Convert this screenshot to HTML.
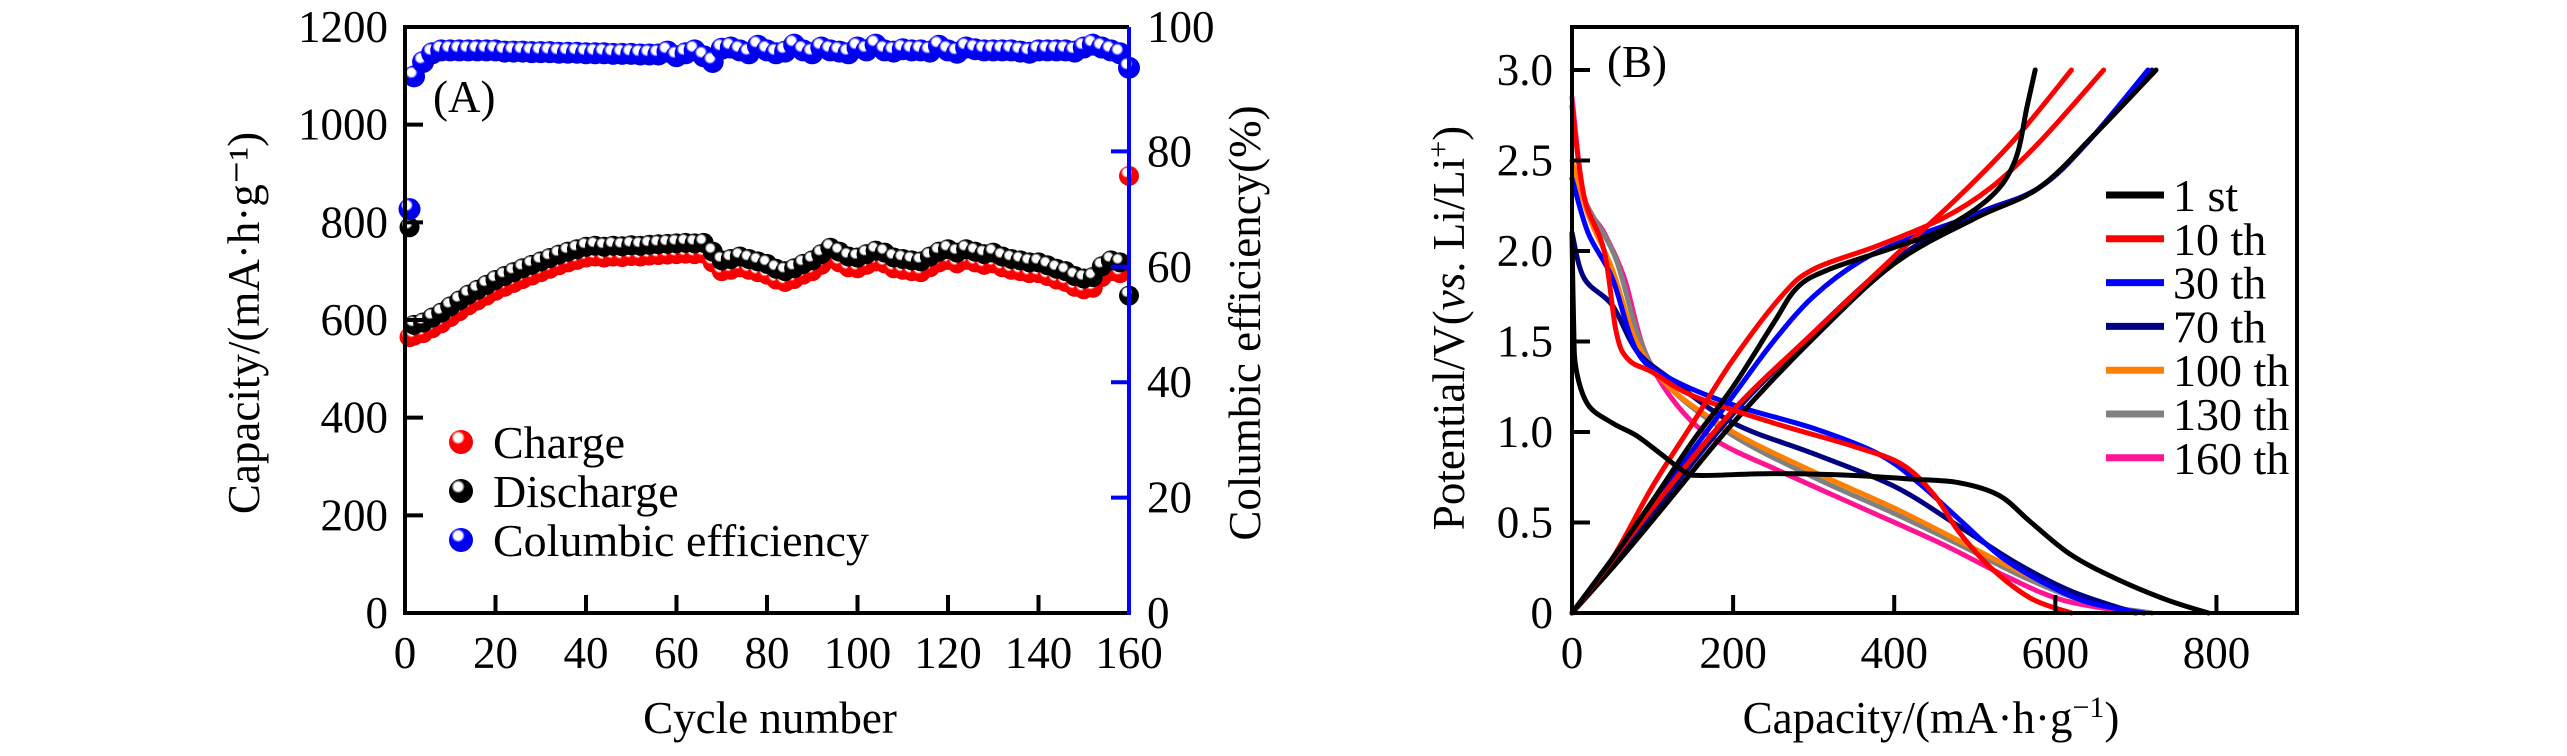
<!DOCTYPE html>
<html><head><meta charset="utf-8"><style>
html,body{margin:0;padding:0;background:#fff}
svg{display:block}
svg text{font-family:"Liberation Serif","Times New Roman",serif;fill:#000}
</style></head><body>
<svg id="chart" width="2567" height="756" viewBox="0 0 2567 756" xmlns="http://www.w3.org/2000/svg" font-family="Liberation Serif, serif">
<defs>
<radialGradient id="gr" cx="0.38" cy="0.32" r="0.7"><stop offset="0" stop-color="#fff"/><stop offset="0.25" stop-color="#fff"/><stop offset="0.4" stop-color="#f00"/><stop offset="1" stop-color="#e00"/></radialGradient>
<radialGradient id="gk" cx="0.38" cy="0.32" r="0.7"><stop offset="0" stop-color="#fff"/><stop offset="0.25" stop-color="#fff"/><stop offset="0.4" stop-color="#000"/><stop offset="1" stop-color="#000"/></radialGradient>
<radialGradient id="gb" cx="0.38" cy="0.32" r="0.7"><stop offset="0" stop-color="#fff"/><stop offset="0.25" stop-color="#fff"/><stop offset="0.4" stop-color="#00f"/><stop offset="1" stop-color="#00d"/></radialGradient>
</defs>
<g id="pa"></g>
<g id="pb"></g>
</svg>
<script>
// ---------- Panel A data ----------
const cycles = [1,2,4,6,8,10,12,14,16,18,20,22,24,26,28,30,32,34,36,38,40,42,44,46,48,50,52,54,56,58,60,62,64,66,68,70,72,74,76,78,80,82,84,86,88,90,92,94,96,98,100,102,104,106,108,110,112,114,116,118,120,122,124,126,128,130,132,134,136,138,140,142,144,146,148,150,152,154,156,158,160];
const dischargeCap = [790,590,595,605,615,628,640,652,662,672,682,690,698,706,713,720,727,734,740,745,750,752,750,752,751,753,752,754,755,756,757,758,757,758,740,722,725,730,725,720,715,705,700,706,715,722,735,748,740,730,728,735,742,738,728,725,722,720,730,740,745,738,745,740,735,738,730,725,722,718,718,712,705,700,690,685,688,710,722,718,650];
const chargeCap = [565,568,573,583,593,606,618,630,640,650,660,668,676,684,691,698,705,712,718,723,728,730,728,730,729,731,730,732,733,734,735,736,735,736,718,700,703,708,703,698,693,683,678,684,693,700,713,726,718,708,706,713,720,716,706,703,700,698,708,718,723,716,723,718,713,716,708,703,700,696,696,690,683,678,668,663,666,688,700,696,895];
const ceVals = [70,93,95.5,97,97.5,97.5,97.5,97.5,97.5,97.5,97.5,97.3,97.3,97.3,97.2,97.2,97.2,97.1,97.1,97.1,97,97,97,96.9,96.9,96.9,96.8,96.8,96.8,97.3,96.5,97,97.5,96.5,95.5,97.8,98,97.5,97,98.3,97.5,97,97.3,98.5,97.5,97,98,97.5,97.3,97,98,97.5,98.5,97.5,97.3,97.7,97.5,97.5,97.3,98.3,97.5,97.1,98,97.7,97.5,97.5,97.5,97.5,97.3,97.1,97.5,97.5,97.5,97.5,97.3,98,98.5,98,97.5,97,94.5];
const xTicksA = [0,20,40,60,80,100,120,140,160];
const yTicksA = [0,200,400,600,800,1000,1200];
const yTicksR = [0,20,40,60,80,100];

// ---------- Panel B data (capacity mAh/g, potential V) ----------
const bCap1st_d = [0,2,5,20,50,80,110,140,160,250,350,420,480,530,570,620,680,740,790];
const bV1st_d   = [2.1,1.6,1.35,1.15,1.05,0.98,0.88,0.78,0.76,0.77,0.76,0.74,0.72,0.65,0.5,0.32,0.18,0.07,0];
const bCap1st_c = [0,50,100,150,200,250,280,320,400,460,520,550,565,575];
const bV1st_c   = [0,0.3,0.62,0.95,1.25,1.6,1.8,1.9,2.02,2.12,2.3,2.5,2.8,3.0];
const bCapK2_c = [0,60,120,200,300,400,500,580,650,725];
const bVK2_c   = [0,0.3,0.62,1.05,1.52,1.93,2.18,2.35,2.65,3.0];
const bCap10_d = [0,15,40,55,70,100,150,250,350,410,450,480,520,570,620];
const bV10_d   = [2.8,2.3,2.0,1.55,1.4,1.33,1.2,1.05,0.92,0.82,0.65,0.45,0.25,0.08,0];
const bCap10_c = [0,50,100,150,200,260,300,380,460,520,580,660];
const bV10_c   = [0,0.3,0.7,1.05,1.4,1.75,1.9,2.03,2.18,2.35,2.6,3.0];
const bCap10b_c = [0,100,200,300,400,480,550,620];
const bV10b_c   = [0,0.58,1.12,1.55,1.97,2.3,2.62,3.0];
const bCap30_d = [0,20,50,80,120,200,300,380,430,480,530,580,640,710];
const bV30_d   = [2.4,2.1,1.85,1.45,1.3,1.15,1.02,0.88,0.72,0.52,0.32,0.18,0.06,0];
const bCap30_c = [0,50,100,150,200,250,300,360,420,500,580,640,715];
const bV30_c   = [0,0.3,0.6,0.9,1.2,1.5,1.75,1.95,2.07,2.2,2.35,2.6,3.0];
const bCap70_d = [0,15,50,80,120,200,300,400,480,550,620,700];
const bV70_d   = [2.1,1.85,1.7,1.45,1.3,1.05,0.88,0.7,0.48,0.28,0.12,0];
const bCap70_c = [0,100,200,300,400,500,580,650,720];
const bV70_c   = [0,0.55,1.1,1.55,1.95,2.2,2.35,2.65,3.0];
const bCap100_d = [0,20,50,80,120,200,300,400,480,560,640,710];
const bV100_d   = [2.5,2.2,1.9,1.5,1.25,1.0,0.78,0.58,0.4,0.22,0.07,0];
const bCap130_d = [0,25,55,85,120,200,300,400,480,560,640,720];
const bV130_d   = [2.4,2.2,1.95,1.5,1.25,0.98,0.75,0.55,0.38,0.2,0.06,0];
const bCap160_d = [0,15,40,65,90,130,180,260,360,460,540,610,700];
const bV160_d   = [2.85,2.3,2.1,1.85,1.45,1.15,0.95,0.78,0.58,0.38,0.2,0.07,0];
const xTicksB = [0,200,400,600,800];
const yTicksB = [0,0.5,1.0,1.5,2.0,2.5,3.0];
const yTickLabB = ["0","0.5","1.0","1.5","2.0","2.5","3.0"];
const legendB = ["1 st","10 th","30 th","70 th","100 th","130 th","160 th"];
const legendColB = ["#000","#f00","#00f","#000080","#ff8000","#808080","#ff1493"];

const NS="http://www.w3.org/2000/svg";
const FF="Liberation Serif, Times New Roman, serif";
function mk(tag,attrs,parent,txt){const e=document.createElementNS(NS,tag);for(const k in attrs)e.setAttribute(k,attrs[k]);if(tag==='text')e.setAttribute('font-family',FF);if(txt!==undefined)e.textContent=txt;parent.appendChild(e);return e;}

// ---------- Panel A ----------
const pa=document.getElementById('pa');
const AL=405,AR=1129,AT=27,AB=613;
const ax=c=>AL+(c/160)*(AR-AL);
const ay=v=>AB-(v/1200)*(AB-AT);
const ayr=p=>AB-(p/100)*577;
const fs=45;

const gR=mk('g',{},pa);
cycles.forEach((c,i)=>{const m=mk('circle',{cx:ax(c),cy:ay(chargeCap[i]),r:10,fill:'url(#gr)'},gR);});
const gK=mk('g',{},pa);
cycles.forEach((c,i)=>{const m=mk('circle',{cx:ax(c),cy:ay(dischargeCap[i]),r:10,fill:'url(#gk)'},gK);});
const gB=mk('g',{},pa);
cycles.forEach((c,i)=>{const m=mk('circle',{cx:ax(c),cy:ayr(ceVals[i]),r:11,fill:'url(#gb)'},gB);});

// axes A
const axA=mk('g',{},pa);
mk('line',{x1:AL,y1:AT,x2:AR,y2:AT,stroke:'#000','stroke-width':4},axA);
mk('line',{x1:AL,y1:AT-2,x2:AL,y2:AB+2,stroke:'#000','stroke-width':4},axA);
mk('line',{x1:AL-2,y1:AB,x2:AR,y2:AB,stroke:'#000','stroke-width':4},axA);
mk('line',{x1:AR,y1:AT,x2:AR,y2:AB+2,stroke:'#00f','stroke-width':4},axA);
xTicksA.forEach(t=>{const x=ax(t);if(t>0&&t<160)mk('line',{x1:x,y1:AB,x2:x,y2:AB-18,stroke:'#000','stroke-width':4},axA);
 const l=mk('text',{x:x,y:668,'font-size':fs,'text-anchor':'middle'},axA,String(t));});
yTicksA.forEach(t=>{const y=ay(t);if(t>0&&t<1200)mk('line',{x1:AL,y1:y,x2:AL+18,y2:y,stroke:'#000','stroke-width':4},axA);
 const l=mk('text',{x:388,y:y+15,'font-size':fs,'text-anchor':'end'},axA,String(t));});
yTicksR.forEach(t=>{const y=ayr(t);if(t>0&&t<100)mk('line',{x1:AR,y1:y,x2:AR-18,y2:y,stroke:'#00f','stroke-width':4},axA);
 const yy=t===100?AT:y;const l=mk('text',{x:1147,y:yy+15,'font-size':fs,'text-anchor':'start'},axA,String(t));});
</script>
<script>
(function(){
const pa=document.getElementById('pa');
const t1=mk('text',{x:770,y:733,'font-size':45,'text-anchor':'middle'},pa,'Cycle number');
const t2=mk('text',{x:0,y:0,'font-size':45,'text-anchor':'middle',transform:'translate(259,323) rotate(-90)'},pa,'Capacity/(mA·h·g⁻¹)');
const t3=mk('text',{x:0,y:0,'font-size':45,'text-anchor':'middle',transform:'translate(1260,323) rotate(-90)'},pa,'Columbic efficiency(%)');
const t4=mk('text',{x:433,y:112,'font-size':45},pa,'(A)');
const leg=mk('g',{},pa);
[['Charge','url(#gr)',442],['Discharge','url(#gk)',491],['Columbic efficiency','url(#gb)',540]].forEach(d=>{
 const g=mk('g',{},leg);
 mk('circle',{cx:461,cy:d[2],r:12,fill:d[1]},g);
 mk('text',{x:493,y:d[2]+16,'font-size':46},g,d[0]);
});

// ---------- Panel B ----------
const pb=document.getElementById('pb');
const BL=1572,BR=2297,BT=27,BB=613;
const bx=c=>BL+(c/900)*(BR-BL);
const by=v=>BB-(v/0.5)*90.5;
function smooth(xs,ys){const p=xs.map((x,i)=>[bx(x),by(ys[i])]);let d='M'+p[0][0]+','+p[0][1];
 for(let i=0;i<p.length-1;i++){const p0=p[i-1]||p[i],p1=p[i],p2=p[i+1],p3=p[i+2]||p2;
  const c1=[p1[0]+(p2[0]-p0[0])/6,p1[1]+(p2[1]-p0[1])/6],c2=[p2[0]-(p3[0]-p1[0])/6,p2[1]-(p3[1]-p1[1])/6];
  d+=' C'+c1[0]+','+c1[1]+' '+c2[0]+','+c2[1]+' '+p2[0]+','+p2[1];}return d;}
const curves=[
 ['curve-160th-discharge',bCap160_d,bV160_d,'#ff1493'],
 ['curve-130th-discharge',bCap130_d,bV130_d,'#808080'],
 ['curve-100th-discharge',bCap100_d,bV100_d,'#ff8000'],
 ['curve-70th-discharge',bCap70_d,bV70_d,'#000080'],
 ['curve-70th-charge',bCap70_c,bV70_c,'#000080'],
 ['curve-30th-discharge',bCap30_d,bV30_d,'#00f'],
 ['curve-30th-charge',bCap30_c,bV30_c,'#00f'],
 ['curve-charge-black-2',bCapK2_c,bVK2_c,'#000'],
 ['curve-10th-discharge',bCap10_d,bV10_d,'#f00'],
 ['curve-10th-charge',bCap10_c,bV10_c,'#f00'],
 ['curve-10th-charge-b',bCap10b_c,bV10b_c,'#f00'],
 ['curve-1st-discharge',bCap1st_d,bV1st_d,'#000'],
 ['curve-1st-charge',bCap1st_c,bV1st_c,'#000']];
const gc=mk('g',{},pb);
curves.forEach(c=>{const p=mk('path',{d:smooth(c[1],c[2]),fill:'none',stroke:c[3],'stroke-width':5,'stroke-linejoin':'round','stroke-linecap':'round'},gc);});
const axB=mk('g',{},pb);
mk('rect',{x:BL,y:BT,width:BR-BL,height:BB-BT,fill:'none',stroke:'#000','stroke-width':4},axB);
xTicksB.forEach(t=>{const x=bx(t);if(t>0)mk('line',{x1:x,y1:BB,x2:x,y2:BB-18,stroke:'#000','stroke-width':4},axB);
 const l=mk('text',{x:x,y:668,'font-size':45,'text-anchor':'middle'},axB,String(t));});
yTicksB.forEach((t,i)=>{const y=by(t);if(t>0)mk('line',{x1:BL,y1:y,x2:BL+18,y2:y,stroke:'#000','stroke-width':4},axB);
 const l=mk('text',{x:1553,y:y+15,'font-size':45,'text-anchor':'end'},axB,yTickLabB[i]);});
const bt1=mk('text',{x:1931,y:733,'font-size':45,'text-anchor':'middle'},pb);
bt1.innerHTML='Capacity/(mA·h·g<tspan dy="-16" font-size="30">−1</tspan><tspan dy="16">)</tspan>';
const bt2=mk('text',{x:0,y:0,'font-size':45,'text-anchor':'middle',transform:'translate(1464,328) rotate(-90)'},pb);
bt2.innerHTML='Potential/V(<tspan font-style="italic">vs</tspan>. Li/Li<tspan dy="-16" font-size="30">+</tspan><tspan dy="16">)</tspan>';
const bt3=mk('text',{x:1607,y:77,'font-size':45},pb,'(B)');
const lg=mk('g',{},pb);
legendB.forEach((s,i)=>{const y=195+i*43.8;const g=mk('g',{},lg);
 mk('line',{x1:2106,y1:y,x2:2164,y2:y,stroke:legendColB[i],'stroke-width':7},g);
 mk('text',{x:2173,y:y+16,'font-size':46},g,s);});
})();
</script>
</body></html>
